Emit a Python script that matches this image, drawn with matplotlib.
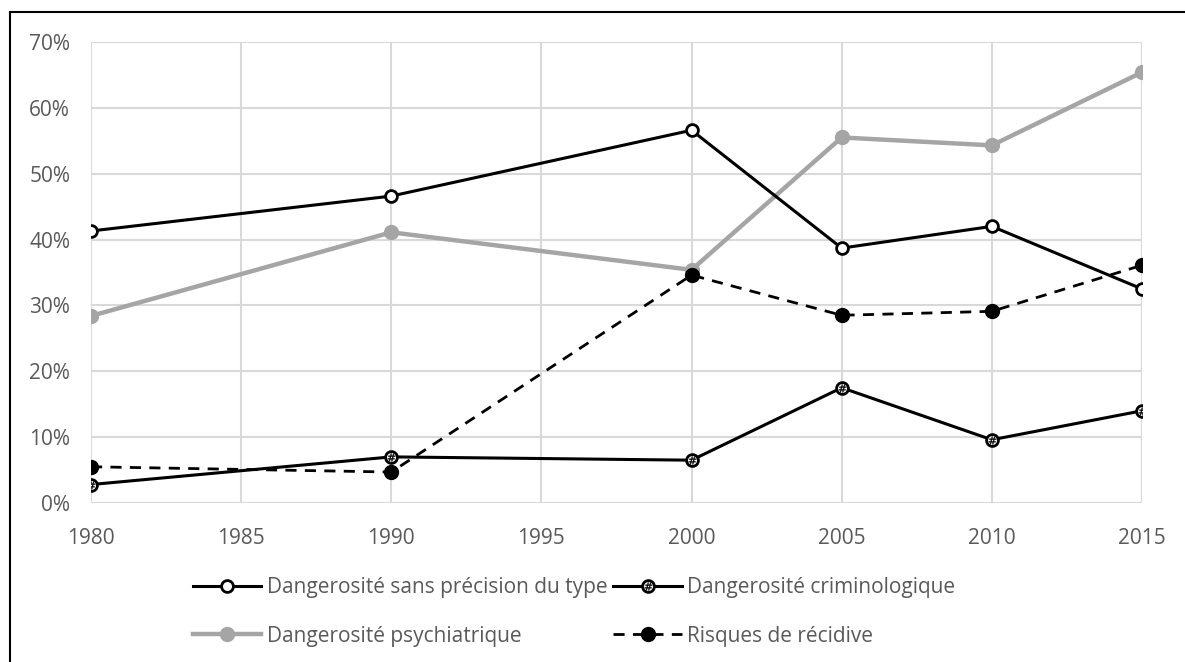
import matplotlib.pyplot as plt
from matplotlib.lines import Line2D
from matplotlib.ticker import PercentFormatter

plt.rcParams['font.family'] = ['Open Sans', 'DejaVu Sans']

# Données
annees = [1980, 1990, 2000, 2005, 2010, 2015]
sans_precision = [41.3, 46.6, 56.6, 38.7, 42.0, 32.5]
criminologique = [2.8, 7.0, 6.5, 17.5, 9.6, 14.0]
psychiatrique = [28.4, 41.1, 35.4, 55.5, 54.3, 65.4]
recidive = [5.5, 4.7, 34.6, 28.5, 29.1, 36.1]

texte = '#595959'
grille = '#d9d9d9'
gris = '#a5a5a5'

fig = plt.figure(figsize=(11.85, 6.62), dpi=100)
ax = fig.add_axes([0.0768, 0.2402, 0.8869, 0.6964])

l1, = ax.plot(annees, sans_precision, color='black', lw=2.2, marker='o', ms=8.5,
              mfc='white', mec='black', mew=2, zorder=4)
l2, = ax.plot(annees, criminologique, color='black', lw=2.2, marker='o', ms=8.5,
              mfc='white', mec='black', mew=2, zorder=4)
h2, = ax.plot(annees, criminologique, ls='none', marker='$\\#$', ms=5.5,
              color='black', mew=0.3, zorder=5)
l3, = ax.plot(annees, psychiatrique, color=gris, lw=3.2, marker='o', ms=10,
              mfc=gris, mec=gris, zorder=3)
l4, = ax.plot(annees, recidive, color='black', lw=2, ls=(0, (4, 3)), marker='o',
              ms=10, mfc='black', mec='black', zorder=4)

ax.set_xlim(1980, 2015)
ax.set_ylim(0, 70)
ax.set_xticks(range(1980, 2016, 5))
ax.set_yticks(range(0, 71, 10))
ax.yaxis.set_major_formatter(PercentFormatter(decimals=0))
ax.grid(True, color=grille, lw=1.5)
ax.set_axisbelow(True)
for s in ax.spines.values():
    s.set_visible(False)
ax.tick_params(length=0, labelsize=15, colors=texte)
ax.tick_params(axis='x', pad=18)
ax.tick_params(axis='y', pad=15)

# ordre colonne par colonne pour obtenir deux lignes comme dans l'original
leg = fig.legend([l1, l3, (l2, h2), l4],
                 ['Dangerosité sans précision du type', 'Dangerosité psychiatrique',
                  'Dangerosité criminologique', 'Risques de récidive'],
                 loc='center', bbox_to_anchor=(0.4844, 0.0755), ncol=2, frameon=False,
                 fontsize=15, handlelength=3.3, columnspacing=0.3, handletextpad=0.25,
                 labelspacing=1.3)
for t in leg.get_texts():
    t.set_color(texte)

# Cadre (bord gauche et haut)
fig.add_artist(Line2D([0.0085, 0.0085], [0, 0.982], color='black', lw=1.5))
fig.add_artist(Line2D([0.0085, 1], [0.982, 0.982], color='black', lw=1.5))

fig.savefig('out.png', dpi=100)
